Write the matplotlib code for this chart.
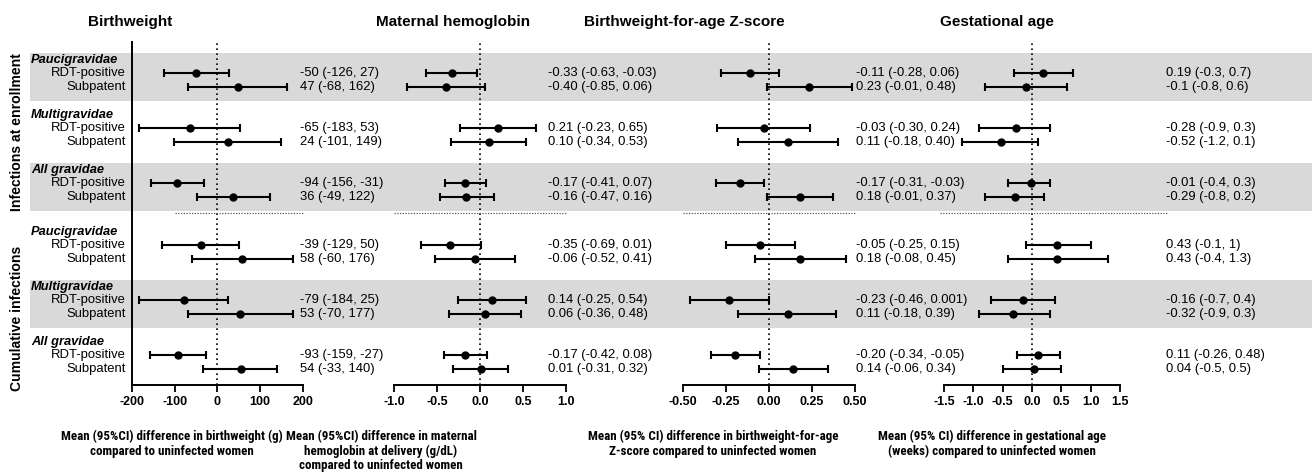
import matplotlib
matplotlib.use("Agg")
import matplotlib.pyplot as plt
from matplotlib import transforms, font_manager
from matplotlib.patches import Rectangle

plt.rcParams["font.family"] = ["Liberation Sans", "DejaVu Sans"]


def fuente_estrecha():
    """Busca una variante estrecha/condensada en negrita; si no hay, Liberation."""
    for fam in ["Liberation Sans Narrow", "Arial Narrow", "Roboto Condensed",
                "Open Sans Condensed", "DejaVu Sans"]:
        fp = font_manager.FontProperties(family=fam, weight="bold",
                                         stretch="condensed")
        try:
            f = font_manager.findfont(fp, fallback_to_default=False)
        except Exception:
            continue
        if "narrow" in f.lower() or "condensed" in f.lower():
            return fp, 9.4
    return font_manager.FontProperties(family="Liberation Sans",
                                       weight="bold"), 8.0


FP_ETIQ, TAM_ETIQ = fuente_estrecha()

# Datos: 6 grupos x 2 filas (RDT-positive, Subpatent), en orden de arriba a abajo
secciones = ["Infections at enrollment", "Cumulative infections"]
grupos = ["Paucigravidae", "Multigravidae", "All gravidae",
          "Paucigravidae", "Multigravidae", "All gravidae"]
filas = ["RDT-positive", "Subpatent"]
grupos_sombreados = [0, 2, 4]

titulos = ["Birthweight", "Maternal hemoglobin",
           "Birthweight-for-age Z-score", "Gestational age"]
etiquetas_x = [
    "Mean (95%CI) difference in birthweight (g)\ncompared to uninfected women",
    "Mean (95%CI) difference in maternal\nhemoglobin at delivery (g/dL)\n"
    "compared to uninfected women",
    "Mean (95% CI) difference in birthweight-for-age\n"
    "Z-score compared to uninfected women",
    "Mean (95% CI) difference in gestational age\n"
    "(weeks) compared to uninfected women",
]

# Birthweight (g)
bw_media = [-50, 47, -65, 24, -94, 36, -39, 58, -79, 53, -93, 54]
bw_li = [-126, -68, -183, -101, -156, -49, -129, -60, -184, -70, -159, -33]
bw_ls = [27, 162, 53, 149, -31, 122, 50, 176, 25, 177, -27, 140]
bw_txt = ["-50 (-126, 27)", "47 (-68, 162)", "-65 (-183, 53)", "24 (-101, 149)",
          "-94 (-156, -31)", "36 (-49, 122)", "-39 (-129, 50)", "58 (-60, 176)",
          "-79 (-184, 25)", "53 (-70, 177)", "-93 (-159, -27)", "54 (-33, 140)"]
bw_ticks = [-200, -100, 0, 100, 200]
bw_ticklab = ["-200", "-100", "0", "100", "200"]

# Maternal hemoglobin (g/dL)
hb_media = [-0.33, -0.40, 0.21, 0.10, -0.17, -0.16, -0.35, -0.06, 0.14, 0.06, -0.17, 0.01]
hb_li = [-0.63, -0.85, -0.23, -0.34, -0.41, -0.47, -0.69, -0.52, -0.25, -0.36, -0.42, -0.31]
hb_ls = [-0.03, 0.06, 0.65, 0.53, 0.07, 0.16, 0.01, 0.41, 0.54, 0.48, 0.08, 0.32]
hb_txt = ["-0.33 (-0.63, -0.03)", "-0.40 (-0.85, 0.06)", "0.21 (-0.23, 0.65)",
          "0.10 (-0.34, 0.53)", "-0.17 (-0.41, 0.07)", "-0.16 (-0.47, 0.16)",
          "-0.35 (-0.69, 0.01)", "-0.06 (-0.52, 0.41)", "0.14 (-0.25, 0.54)",
          "0.06 (-0.36, 0.48)", "-0.17 (-0.42, 0.08)", "0.01 (-0.31, 0.32)"]
hb_ticks = [-1.0, -0.5, 0.0, 0.5, 1.0]
hb_ticklab = ["-1.0", "-0.5", "0.0", "0.5", "1.0"]

# Birthweight-for-age Z-score
baz_media = [-0.11, 0.23, -0.03, 0.11, -0.17, 0.18, -0.05, 0.18, -0.23, 0.11, -0.20, 0.14]
baz_li = [-0.28, -0.01, -0.30, -0.18, -0.31, -0.01, -0.25, -0.08, -0.46, -0.18, -0.34, -0.06]
baz_ls = [0.06, 0.48, 0.24, 0.40, -0.03, 0.37, 0.15, 0.45, 0.001, 0.39, -0.05, 0.34]
baz_txt = ["-0.11 (-0.28, 0.06)", "0.23 (-0.01, 0.48)", "-0.03 (-0.30, 0.24)",
           "0.11 (-0.18, 0.40)", "-0.17 (-0.31, -0.03)", "0.18 (-0.01, 0.37)",
           "-0.05 (-0.25, 0.15)", "0.18 (-0.08, 0.45)", "-0.23 (-0.46, 0.001)",
           "0.11 (-0.18, 0.39)", "-0.20 (-0.34, -0.05)", "0.14 (-0.06, 0.34)"]
baz_ticks = [-0.50, -0.25, 0.0, 0.25, 0.50]
baz_ticklab = ["-0.50", "-0.25", "0.00", "0.25", "0.50"]

# Gestational age (weeks)
ga_media = [0.19, -0.1, -0.28, -0.52, -0.01, -0.29, 0.43, 0.43, -0.16, -0.32, 0.11, 0.04]
ga_li = [-0.3, -0.8, -0.9, -1.2, -0.4, -0.8, -0.1, -0.4, -0.7, -0.9, -0.26, -0.5]
ga_ls = [0.7, 0.6, 0.3, 0.1, 0.3, 0.2, 1.0, 1.3, 0.4, 0.3, 0.48, 0.5]
ga_txt = ["0.19 (-0.3, 0.7)", "-0.1 (-0.8, 0.6)", "-0.28 (-0.9, 0.3)",
          "-0.52 (-1.2, 0.1)", "-0.01 (-0.4, 0.3)", "-0.29 (-0.8, 0.2)",
          "0.43 (-0.1, 1)", "0.43 (-0.4, 1.3)", "-0.16 (-0.7, 0.4)",
          "-0.32 (-0.9, 0.3)", "0.11 (-0.26, 0.48)", "0.04 (-0.5, 0.5)"]
ga_ticks = [-1.5, -1.0, -0.5, 0.0, 0.5, 1.0, 1.5]
ga_ticklab = ["-1.5", "-1.0", "-0.5", "0.0", "0.5", "1.0", "1.5"]

paneles = [
    (bw_media, bw_li, bw_ls, bw_txt, bw_ticks, bw_ticklab),
    (hb_media, hb_li, hb_ls, hb_txt, hb_ticks, hb_ticklab),
    (baz_media, baz_li, baz_ls, baz_txt, baz_ticks, baz_ticklab),
    (ga_media, ga_li, ga_ls, ga_txt, ga_ticks, ga_ticklab),
]

# Layout (fracciones de figura / posiciones verticales)
bases = [0, 4, 8, 12.5, 16.5, 20.5]
y_filas = [bases[i // 2] + 1 + i % 2 for i in range(12)]
ylim = (23.67, -1.28)
rect_ax = [(0.1006, 0.1303), (0.3003, 0.1311), (0.5206, 0.1311), (0.7195, 0.1341)]
x_texto = [0.982, 0.894, 1.006, 1.26]
sep_ext = [(0.25, 1.0), (0.0, 1.0), (0.0, 1.0), (-0.02, 1.27)]
x_titulo = [130, 453, 684, 997]
x_etiq = [172, 381, 713, 992]
W, H = 1312, 476

fig = plt.figure(figsize=(13.12, 4.76), dpi=100)
axes = []
for (l, w) in rect_ax:
    ax = fig.add_axes([l, 1 - 385 / H, w, (385 - 42) / H])
    ax.patch.set_visible(False)
    axes.append(ax)

for k, (ax, (media, li, ls, txt, ticks, ticklab)) in enumerate(zip(axes, paneles)):
    err = [[m - a for m, a in zip(media, li)], [b - m for m, b in zip(media, ls)]]
    ax.errorbar(media, y_filas, xerr=err, fmt="o", color="black", ms=5,
                elinewidth=1.5, capsize=3, capthick=1.5, zorder=3)
    ax.set_xlim(ticks[0], ticks[-1])
    ax.set_ylim(*ylim)
    ax.axvline(0, color="black", ls=(0, (1, 2)), lw=1.2, zorder=2)
    tr = transforms.blended_transform_factory(ax.transAxes, ax.transData)
    for t, y in zip(txt, y_filas):
        ax.text(x_texto[k], y, t, transform=tr, ha="left", va="center",
                fontsize=9.4, clip_on=False)
    ax.plot(sep_ext[k], [11.15, 11.15], transform=tr, color="0.35",
            ls=(0, (1, 1.2)), lw=0.9, clip_on=False)
    ax.set_xticks(ticks)
    ax.set_xticklabels(ticklab, fontsize=9, fontweight="bold")
    ax.set_yticks([])
    ax.tick_params(axis="x", length=5, width=1.3, pad=3)
    for s in ["top", "right"]:
        ax.spines[s].set_visible(False)
    ax.spines["bottom"].set_linewidth(1.4)
    if k == 0:
        ax.spines["left"].set_linewidth(1.4)
    else:
        ax.spines["left"].set_visible(False)
    fig.text(x_titulo[k] / W, 1 - 22 / H, titulos[k], ha="center", va="center",
             fontsize=11, fontweight="bold")
    fig.text(x_etiq[k] / W, 1 - 430 / H, etiquetas_x[k], ha="center", va="top",
             fontproperties=FP_ETIQ, fontsize=TAM_ETIQ,
             multialignment="center", linespacing=1.15)

# Bandas grises y etiquetas de filas (ancho de figura)
trf = transforms.blended_transform_factory(fig.transFigure, axes[0].transData)
for g in grupos_sombreados:
    fig.patches.append(Rectangle((0.023, bases[g] - 0.5), 1 - 0.023, 3.5,
                                 transform=trf, facecolor="#d9d9d9",
                                 edgecolor="none", zorder=-10))
for g, nombre in enumerate(grupos):
    fig.text(0.0236, bases[g] + 0.05, nombre, transform=trf, ha="left",
             va="center", fontsize=9.3, fontweight="bold", style="italic")
    for r, fila in enumerate(filas):
        fig.text(126 / W, bases[g] + 1 + r, fila, transform=trf, ha="right",
                 va="center", fontsize=9.4)

for nombre, yc in zip(secciones, [5.27, 18.8]):
    fig.text(17 / W, yc, nombre, transform=trf, rotation=90, ha="center",
             va="center", fontsize=10.1, fontweight="bold")

fig.savefig("out.png", dpi=100)
